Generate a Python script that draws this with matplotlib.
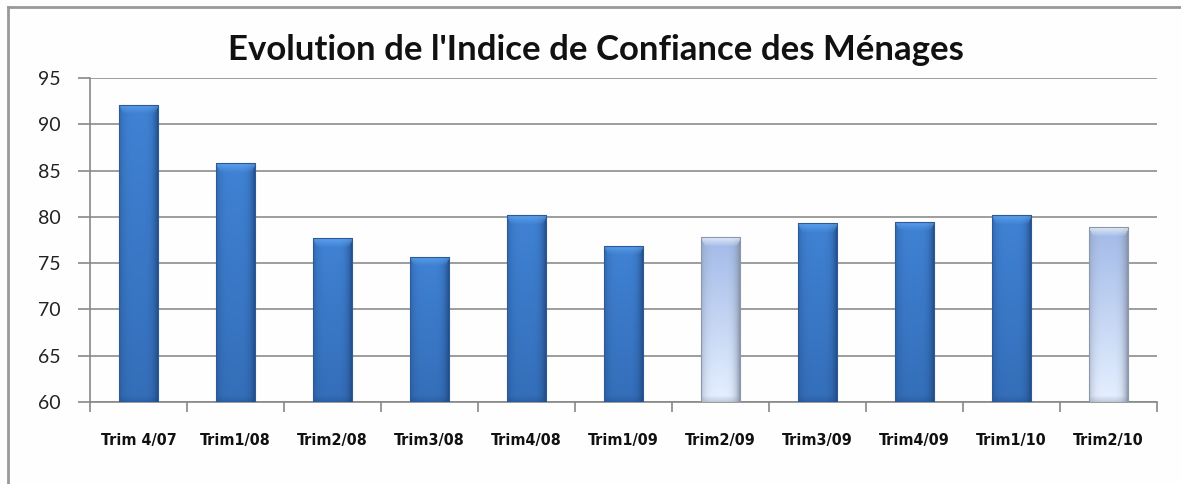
import matplotlib.pyplot as plt
import matplotlib.patches as mpatches
import numpy as np

# data
labels = ['Trim 4/07', 'Trim1/08', 'Trim2/08', 'Trim3/08', 'Trim4/08', 'Trim1/09',
          'Trim2/09', 'Trim3/09', 'Trim4/09', 'Trim1/10', 'Trim2/10']
values = [92.1, 85.8, 77.7, 75.7, 80.2, 76.9, 77.8, 79.3, 79.5, 80.2, 78.9]
light = [False, False, False, False, False, False, True, False, False, False, True]
title = "Evolution de l'Indice de Confiance des Ménages"
yticks = [60, 65, 70, 75, 80, 85, 90, 95]
ymin, ymax = 60, 95


def bar_image(nrows, ncols, is_light):
    # horizontal profile: darker towards the edges, right edge a bit more
    t = np.linspace(0, 1, ncols)
    e = np.where(t < 0.5, np.abs(t - 0.5) * 2 * 0.8, np.abs(t - 0.5) * 2)
    e = np.clip(e, 0, 1) ** 4
    r = np.linspace(0, 1, nrows)[:, None]  # 0 top, 1 bottom
    if is_light:
        top = np.array([162, 186, 232]) / 255.
        bot = np.array([230, 240, 255]) / 255.
        edge = np.array([128, 140, 160]) / 255.
    else:
        top = np.array([64, 130, 212]) / 255.
        bot = np.array([52, 110, 185]) / 255.
        edge = np.array([32, 72, 128]) / 255.
    base = top[None, None, :] * (1 - r[..., None]) + bot[None, None, :] * r[..., None]
    img = base * (1 - e[None, :, None]) + edge[None, None, :] * e[None, :, None]
    # top bevel
    nb = min(9, nrows // 3)
    if is_light:
        bev = np.array([245, 250, 255]) / 255.
    else:
        bev = np.array([100, 170, 245]) / 255.
    for k in range(nb):
        w = 1 - k / nb
        inset = int(ncols * 0.12 * k / nb)
        img[k, inset:ncols - inset] = img[k, inset:ncols - inset] * (1 - 0.75 * w) + bev * 0.75 * w
    # bottom bevel
    nb2 = 6
    for k in range(nb2):
        w = 0.35 * (1 - k / nb2)
        img[nrows - 1 - k] = img[nrows - 1 - k] * (1 - w) + edge * w
    return np.clip(img, 0, 1)


fig = plt.figure(figsize=(11.81, 4.84), dpi=100)
fig.patch.set_facecolor('#fefefe')
ax = fig.add_axes([0.0762, 0.1694, 0.9035, 0.6694])
ax.set_facecolor('#fefefe')

x = np.arange(len(labels))
bars = ax.bar(x, [v - ymin for v in values], bottom=ymin, width=0.41,
              color='none', edgecolor='none', zorder=3)

for b, v, lt in zip(bars, values, light):
    nrows = max(10, int((v - ymin) * 9.26))
    img = bar_image(nrows, 40, lt)
    im = ax.imshow(img, extent=(b.get_x(), b.get_x() + b.get_width(), ymin, v),
                   aspect='auto', zorder=3, interpolation='bilinear')
    im.set_clip_path(b)
    ec = '#8c97aa' if lt else '#2b5a96'
    ax.add_patch(mpatches.Rectangle((b.get_x(), ymin), b.get_width(), v - ymin,
                                    fill=False, edgecolor=ec, linewidth=0.8, zorder=4))

ax.set_xlim(-0.5, len(labels) - 0.5)
ax.set_ylim(ymin, ymax)
ax.set_yticks(yticks)
ax.set_yticklabels([str(t) for t in yticks], fontsize=14, family='Lato', color='#222222')
ax.tick_params(axis='y', length=9, width=1.2, color='#888888', pad=12)
ax.yaxis.grid(True, color='#8c8c8c', linewidth=1.2, zorder=0)
ax.set_axisbelow(True)

ax.set_xticks(x)
ax.set_xticklabels(labels, fontsize=11.5, fontweight='bold', fontstretch='condensed',
                   family='DejaVu Sans', color='#111111')
ax.tick_params(axis='x', which='major', length=0, pad=22)
ax.set_xticks(np.arange(-0.5, len(labels), 1), minor=True)
ax.tick_params(axis='x', which='minor', length=7, width=1.2, color='#888888')

for s in ['top', 'right']:
    ax.spines[s].set_visible(False)
ax.spines['left'].set_color('#888888')
ax.spines['left'].set_linewidth(1.2)
ax.spines['bottom'].set_color('#888888')
ax.spines['bottom'].set_linewidth(1.2)

fig.text(0.505, 0.897, title, ha='center', va='center', fontsize=25, fontweight='bold',
         family='Lato', color='#111111')

# outer chart frame (top and left only visible in the crop)
fig.add_artist(plt.Line2D([8 / 1181, 1.0], [1 - 7 / 484, 1 - 7 / 484],
                          transform=fig.transFigure, color='#999999', linewidth=2))
fig.add_artist(plt.Line2D([8 / 1181, 8 / 1181], [0, 1 - 7 / 484],
                          transform=fig.transFigure, color='#999999', linewidth=2))

fig.savefig('out.png', dpi=100, facecolor=fig.get_facecolor())
